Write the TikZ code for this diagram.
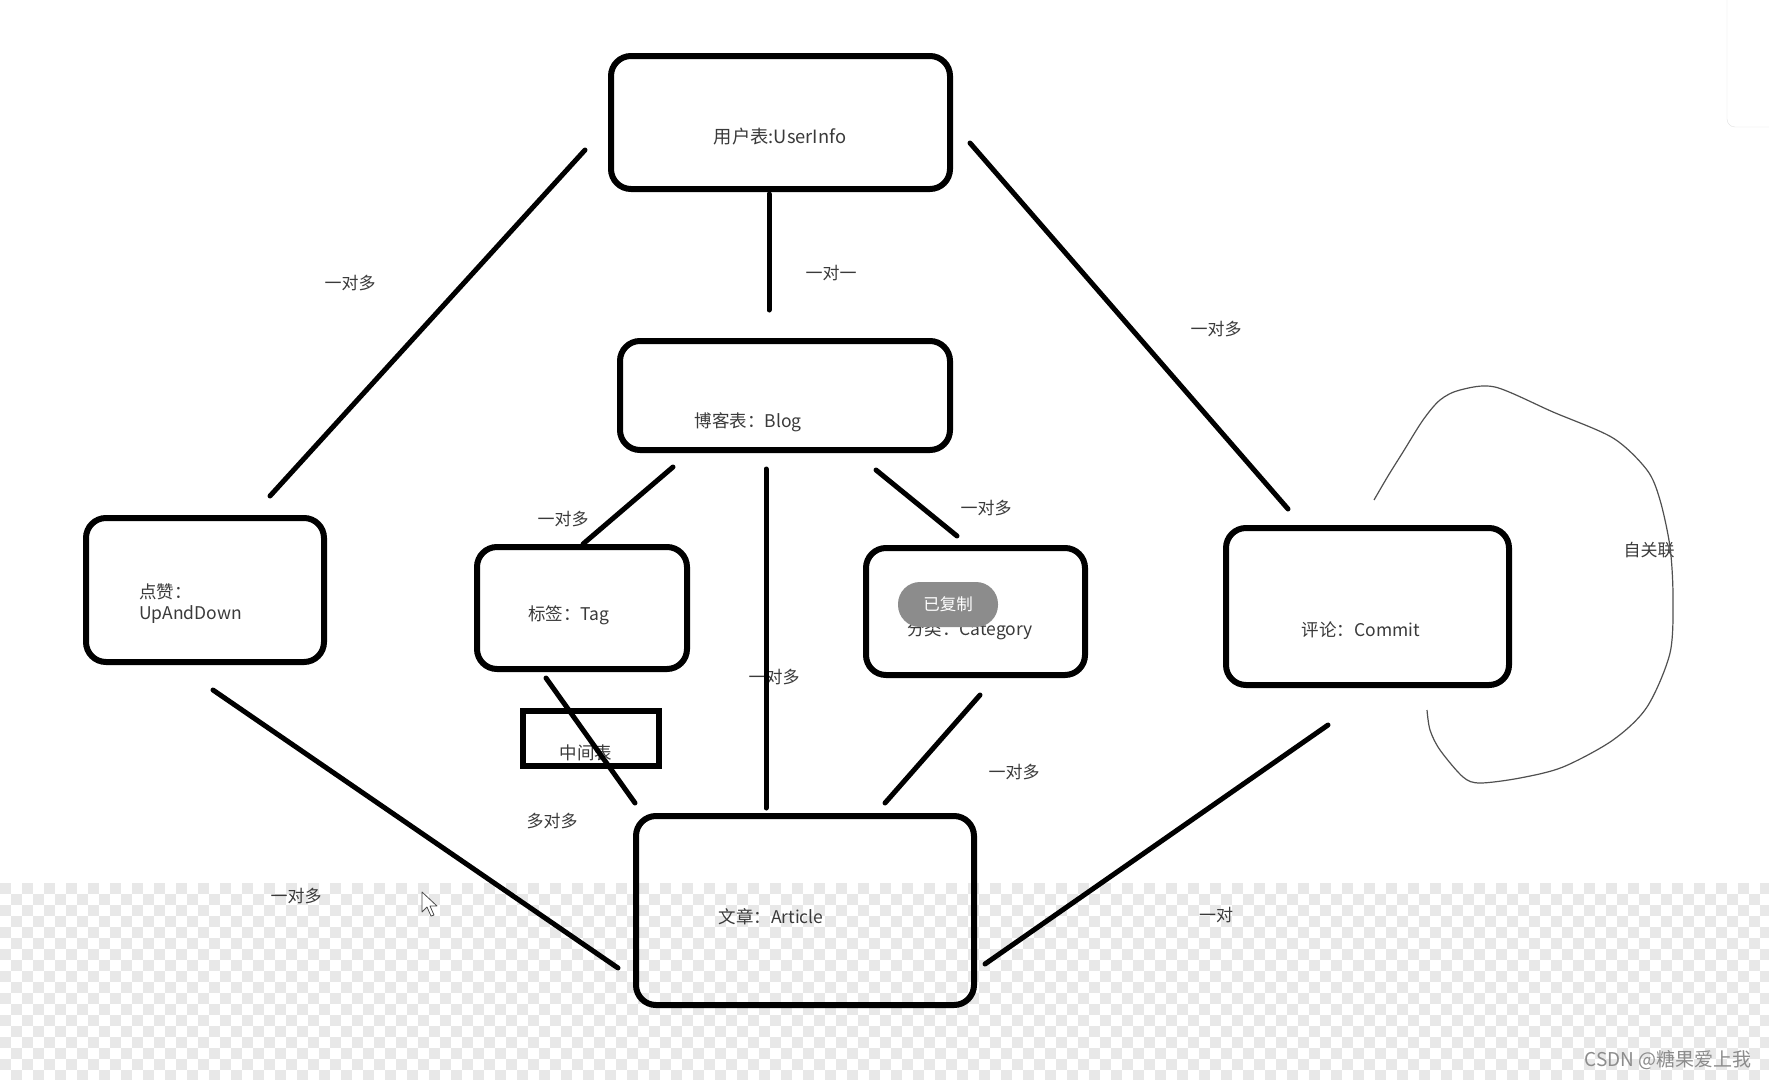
\documentclass[tikz,border=0pt]{standalone}
\usepackage{fontspec}
\setmainfont{Noto Sans CJK SC}
\definecolor{txtgrey}{HTML}{3A3A3A}
\definecolor{checker}{HTML}{E8E8E8}
\definecolor{pillgrey}{HTML}{8C8C8C}
\definecolor{loopgrey}{HTML}{505050}
\begin{document}
\begin{tikzpicture}[x=1pt,y=-1pt,
  box/.style={draw=black, line width=6pt, rounded corners=20pt, inner sep=0pt, outer sep=0pt},
  midbox/.style={draw=black, line width=6pt, inner sep=0pt, outer sep=0pt},
  lbl/.style={text=txtgrey, font=\fontsize{17}{19}\selectfont, inner sep=0pt},
  boxtxt/.style={text=txtgrey, font=\fontsize{17.5}{21}\selectfont, inner sep=0pt},
  conn/.style={line width=5pt, line cap=round}]
\useasboundingbox (0,0) rectangle (1769,1079);
\fill[white] (0,0) rectangle (1769,1079);
% checker background
\begin{scope}
\clip (0,883) rectangle (1769,1079);
\foreach \j in {0,...,17} {
  \pgfmathtruncatemacro\off{mod(\j,2)}
  \foreach \i in {0,2,...,162} {
    \fill[checker] ({(\i+\off)*11},{883+\j*11}) rectangle ++(11,11);
  }
}
\end{scope}
% top-right panel
\draw[black!12, fill=white, rounded corners=8pt] (1727,-20) -- (1727,127) -- (1790,127) -- (1790,-20);

% boxes
\node[box, minimum width=339pt, minimum height=133pt] (user) at (780.5,122.5) {};
\node[box, minimum width=330pt, minimum height=109pt] (blog) at (785,395.5) {};
\node[box, minimum width=238pt, minimum height=144pt] (up) at (205,590) {};
\node[box, minimum width=210pt, minimum height=122pt] (tag) at (582,608) {};
\node[box, minimum width=219pt, minimum height=127pt] (cat) at (975.5,611.5) {};
\node[box, minimum width=283pt, minimum height=157pt] (com) at (1367.5,606.5) {};
\node[box, minimum width=338pt, minimum height=189pt] (art) at (805,910.5) {};
\node[midbox, minimum width=136pt, minimum height=55pt] (mid) at (591,738.5) {};

% box texts
\node[boxtxt, font=\fontsize{18.3}{20}\selectfont] (tuser) at (780,137) {用户表:UserInfo};
\node[boxtxt] (tblog) at (748,422) {博客表：Blog};
\node[boxtxt, anchor=west, align=left] (tup) at (139,604) {点赞：\\UpAndDown};
\node[boxtxt] (ttag) at (569,615) {标签：Tag};
\node[boxtxt] (tcat) at (970,630) {分类：Category};
\node[boxtxt] (tcom) at (1361,630) {评论：Commit};
\node[boxtxt] (tart) at (771,917) {文章：Article};
\node[boxtxt] (tmid) at (586,753) {中间表};
\node[fill=pillgrey, rounded corners=22pt, minimum width=100pt, minimum height=45pt, inner sep=0pt,
      text=white, font=\fontsize{16.5}{18}\selectfont] (pill) at (948,604.5) {已复制};

% edge labels
\node[lbl] (l1) at (350,283) {一对多};
\node[lbl] (l2) at (831,273) {一对一};
\node[lbl] (l3) at (1216,329) {一对多};
\node[lbl] (l4) at (563,519) {一对多};
\node[lbl] (l5) at (986,508) {一对多};
\node[lbl] (l6) at (774,677) {一对多};
\node[lbl] (l7) at (1014,772) {一对多};
\node[lbl] (l8) at (552,821) {多对多};
\node[lbl] (l9) at (296,896) {一对多};
\node[lbl] (l10) at (1216,915) {一对};
\node[lbl] (l11) at (1649,550) {自关联};

% connector end points
\coordinate (uA) at (585,150);  \coordinate (upA) at (270,496);
\coordinate (uB) at (769,194);  \coordinate (bU) at (769,310);
\coordinate (uC) at (970,143);  \coordinate (cU) at (1288,509);
\coordinate (bT) at (673,467);  \coordinate (tB) at (583,544);
\coordinate (bA) at (766,469);  \coordinate (aB) at (766,808);
\coordinate (bC) at (876,470);  \coordinate (cB) at (957,536);
\coordinate (upX) at (213,690); \coordinate (aUp) at (618,968);
\coordinate (tX) at (546,678);  \coordinate (aT) at (635,803);
\coordinate (cX) at (980,695);  \coordinate (aC) at (885,803);
\coordinate (coX) at (1328,725); \coordinate (aCo) at (985,964);

\draw[conn] (uA) -- (upA);
\draw[conn] (uB) -- (bU);
\draw[conn] (uC) -- (cU);
\draw[conn] (bT) -- (tB);
\draw[conn] (bA) -- (aB);
\draw[conn] (bC) -- (cB);
\draw[conn] (upX) -- (aUp);
\draw[conn] (tX) -- (aT);
\draw[conn] (cX) -- (aC);
\draw[conn] (coX) -- (aCo);

% self-relation loop
\draw[loopgrey, line width=1.2pt] plot[smooth, tension=0.5] coordinates {
 (1374,500) (1388,476) (1403,452) (1423,420) (1440,400) (1460,390) (1495,387) (1553,412) (1613,438)
 (1647,470) (1660,500) (1670,547) (1673,597) (1670,653) (1647,707) (1613,740) (1563,767)
 (1520,778) (1480,783) (1463,777) (1440,750) (1430,730) (1427,710)};

% mouse cursor
\draw[black!70, fill=white, line width=0.8pt, line join=round]
  (422,892) -- (422,912) -- (427,907) -- (431,916) -- (434,915) -- (430,906) -- (437,906) -- cycle;

% watermark
\node[text=black!45, font=\fontsize{19}{21}\selectfont, inner sep=0pt] (wm) at (1668,1060) {CSDN @糖果爱上我};
\end{tikzpicture}
\end{document}
